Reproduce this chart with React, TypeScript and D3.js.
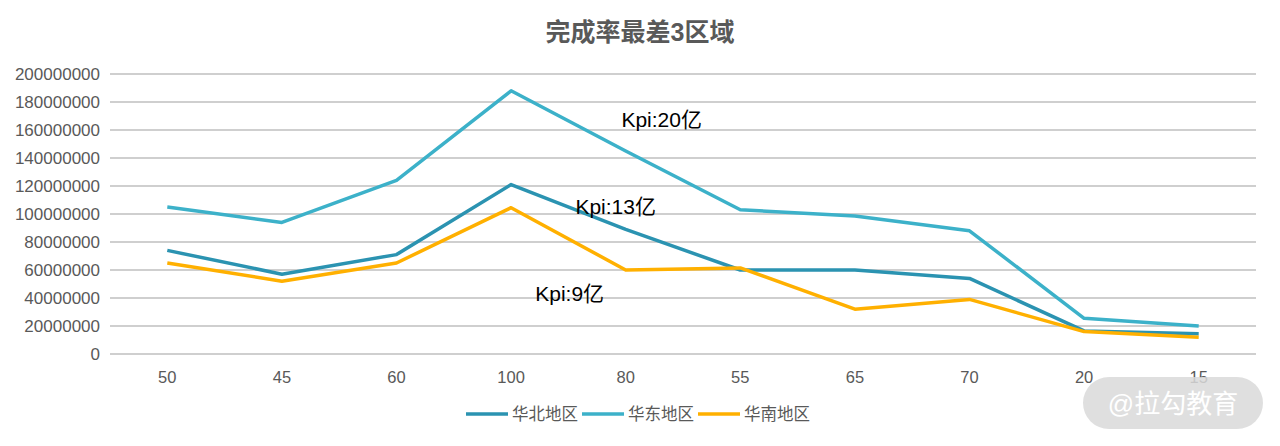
import { useEffect, useRef } from 'react'
import * as d3 from 'd3'

const categories = ['50', '45', '60', '100', '80', '55', '65', '70', '20', '15']
const yTicks = [0, 20000000, 40000000, 60000000, 80000000, 100000000, 120000000, 140000000, 160000000, 180000000, 200000000]

const huabei = [74000000, 57000000, 71000000, 121000000, 89000000, 60000000, 60000000, 54000000, 16500000, 14500000]
const huadong = [105000000, 94000000, 124000000, 188000000, 145000000, 103000000, 98500000, 88000000, 25500000, 20000000]
const huanan = [65000000, 52000000, 65000000, 104500000, 60000000, 61500000, 32000000, 39000000, 16000000, 12000000]

const seriesNames = ['华北地区', '华东地区', '华南地区']
const seriesColors = ['#2b93b1', '#3cb1c9', '#ffb000']

// annotation text with the category + value it sits near
const notes = [
  { text: 'Kpi:20亿', cat: '80', value: 167000000, dx: 36 },
  { text: 'Kpi:13亿', cat: '80', value: 105000000, dx: -10 },
  { text: 'Kpi:9亿', cat: '80', value: 43000000, dx: -56 },
]

const FONT = "'Liberation Sans', Arial, 'Noto Sans CJK SC', sans-serif"

export default function App() {
  const svgRef = useRef<SVGSVGElement>(null)

  useEffect(() => {
    if (!svgRef.current) return
    const svg = d3.select(svgRef.current)
    svg.selectAll('*').remove()

    const width = 1280
    const height = 446
    const left = 110
    const right = 1256
    const top = 74
    const bottom = 354

    const x = d3.scaleBand<string>().domain(categories).range([left, right])
    const y = d3.scaleLinear().domain([0, 200000000]).range([bottom, top])

    svg.append('rect').attr('width', width).attr('height', height).attr('fill', '#ffffff')

    // title
    svg.append('text')
      .attr('x', 640).attr('y', 41)
      .attr('text-anchor', 'middle')
      .attr('font-family', FONT)
      .attr('font-size', 25)
      .attr('font-weight', 'bold')
      .attr('fill', '#595959')
      .text('完成率最差3区域')

    // grid + y labels
    const grid = svg.append('g')
    grid.selectAll('line')
      .data(yTicks)
      .enter()
      .append('line')
      .attr('x1', left).attr('x2', right)
      .attr('y1', d => y(d)).attr('y2', d => y(d))
      .attr('stroke', '#bfbfbf')
      .attr('stroke-width', 1.3)

    grid.selectAll('text')
      .data(yTicks)
      .enter()
      .append('text')
      .attr('x', 100)
      .attr('y', d => y(d) + 6)
      .attr('text-anchor', 'end')
      .attr('font-family', FONT)
      .attr('font-size', 17)
      .attr('fill', '#595959')
      .text(d => String(d))

    // x labels
    svg.append('g').selectAll('text')
      .data(categories)
      .enter()
      .append('text')
      .attr('x', d => (x(d) ?? 0) + x.bandwidth() / 2)
      .attr('y', 383)
      .attr('text-anchor', 'middle')
      .attr('font-family', FONT)
      .attr('font-size', 16.5)
      .attr('fill', '#595959')
      .text(d => d)

    const line = d3.line<number>()
      .x((_, i) => (x(categories[i]) ?? 0) + x.bandwidth() / 2)
      .y(d => y(d))

    const allSeries = [huabei, huadong, huanan]
    allSeries.forEach((s, i) => {
      svg.append('path')
        .datum(s)
        .attr('d', line)
        .attr('fill', 'none')
        .attr('stroke', seriesColors[i])
        .attr('stroke-width', 3.5)
        .attr('stroke-linejoin', 'round')
    })

    // kpi labels
    svg.append('g').selectAll('text')
      .data(notes)
      .enter()
      .append('text')
      .attr('x', d => (x(d.cat) ?? 0) + x.bandwidth() / 2 + d.dx)
      .attr('y', d => y(d.value) + 7)
      .attr('text-anchor', 'middle')
      .attr('font-family', FONT)
      .attr('font-size', 21)
      .attr('fill', '#000000')
      .text(d => d.text)

    // legend
    const legendX = [466, 582, 698]
    const legend = svg.append('g')
    seriesNames.forEach((name, i) => {
      legend.append('line')
        .attr('x1', legendX[i]).attr('x2', legendX[i] + 42)
        .attr('y1', 414).attr('y2', 414)
        .attr('stroke', seriesColors[i])
        .attr('stroke-width', 3.5)
      legend.append('text')
        .attr('x', legendX[i] + 46).attr('y', 420)
        .attr('font-family', FONT)
        .attr('font-size', 16.5)
        .attr('fill', '#595959')
        .text(name)
    })

    // watermark
    svg.append('rect')
      .attr('x', 1083).attr('y', 377)
      .attr('width', 180).attr('height', 52)
      .attr('rx', 26)
      .attr('fill', '#d9d9d9')
      .attr('fill-opacity', 0.85)
    svg.append('text')
      .attr('x', 1173).attr('y', 413)
      .attr('text-anchor', 'middle')
      .attr('font-family', FONT)
      .attr('font-size', 26)
      .attr('fill', '#ffffff')
      .text('@拉勾教育')
  }, [])

  return (
    <svg
      ref={svgRef}
      width={1280}
      height={446}
      style={{ position: 'absolute', left: 0, top: 0, display: 'block' }}
    />
  )
}
